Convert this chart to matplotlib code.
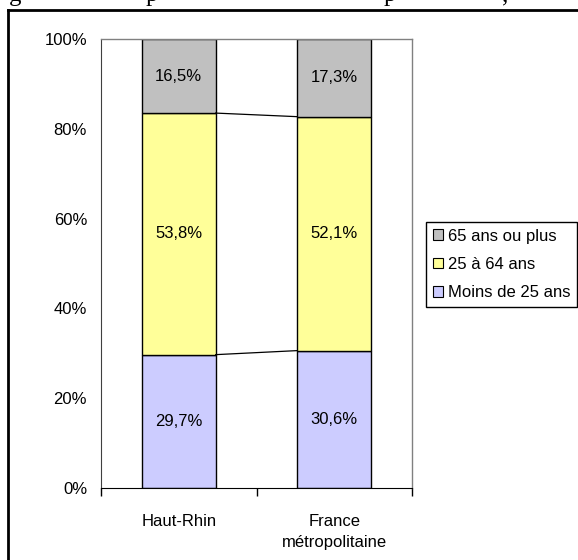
import matplotlib
matplotlib.use('Agg')
import matplotlib.pyplot as plt
from matplotlib.patches import Patch
from matplotlib.lines import Line2D
from matplotlib.ticker import FixedLocator, PercentFormatter

plt.rcParams['font.family'] = ['Liberation Sans', 'DejaVu Sans']

# donnees (en %)
zones = ['Haut-Rhin', 'France\nmétropolitaine']
moins_25 = [29.7, 30.6]
de_25_64 = [53.8, 52.1]
plus_65 = [16.5, 17.3]
series = ['Moins de 25 ans', '25 à 64 ans', '65 ans ou plus']
couleurs = ['#CCCCFF', '#FFFF99', '#C0C0C0']

fig = plt.figure(figsize=(5.78, 5.6), dpi=100)
ax = fig.add_axes([101 / 578, 1 - 488 / 560, 311 / 578, 449 / 560])

largeur = 0.475
x = list(range(len(zones)))
bas = [0.0] * len(zones)
hauts = []
for vals, nom, c in zip([moins_25, de_25_64, plus_65], series, couleurs):
    ax.bar(x, vals, largeur, bottom=bas, color=c, edgecolor='black', linewidth=1, label=nom)
    for xi, v, b in zip(x, vals, bas):
        ax.text(xi, b + v / 2, f'{v:.1f}%'.replace('.', ','), ha='center', va='center', fontsize=12)
    bas = [b + v for b, v in zip(bas, vals)]
    hauts.append(list(bas))

# lignes de liaison entre les barres
for h in hauts[:-1]:
    ax.plot([x[0] + largeur / 2, x[1] - largeur / 2], h, color='black', linewidth=0.9)

ax.set_xlim(-0.5, 1.5)
ax.set_ylim(0, 100)
ax.yaxis.set_major_locator(FixedLocator([0, 20, 40, 60, 80, 100]))
ax.yaxis.set_major_formatter(PercentFormatter(decimals=0))
ax.tick_params(axis='y', length=0, pad=10, labelsize=12)

ax.set_xticks([-0.5, 0.5, 1.5])
ax.set_xticklabels([])
ax.set_xticks(x, minor=True)
ax.set_xticklabels(zones, minor=True, linespacing=1.5)
ax.tick_params(axis='x', which='major', length=6, width=1, direction='out')
ax.tick_params(axis='x', which='minor', length=0, pad=19, labelsize=12)

for s in ['top', 'right']:
    ax.spines[s].set_color('#808080')
    ax.spines[s].set_linewidth(1)
ax.spines['left'].set_color('#404040')
ax.spines['bottom'].set_color('black')

handles = [Patch(facecolor=c, edgecolor='black', linewidth=0.8, label=n)
           for c, n in zip(couleurs[::-1], series[::-1])]
leg = fig.legend(handles=handles, loc='upper left', bbox_to_anchor=(426 / 578, 1 - 222 / 560),
                 bbox_transform=fig.transFigure, borderaxespad=0, fontsize=12,
                 fancybox=False, edgecolor='black', framealpha=1,
                 handlelength=0.6, handleheight=0.6, handletextpad=0.3,
                 labelspacing=0.8, borderpad=0.4)
leg.get_frame().set_linewidth(1)

# cadre du graphique
fig.add_artist(Line2D([8 / 578, 1], [1 - 10 / 560, 1 - 10 / 560], color='black', linewidth=2,
                      transform=fig.transFigure))
fig.add_artist(Line2D([8 / 578, 8 / 578], [1 - 10 / 560, 0], color='black', linewidth=2,
                      transform=fig.transFigure))

# titre coupe en haut de l'image
for xc, ch in [(15, 'g'), (152, 'p'), (390, 'p'), (505, ',')]:
    fig.text(xc / 578, 1 - 1 / 560, ch, ha='center', va='baseline', fontsize=18,
             family='Liberation Serif')

fig.savefig('out.png', dpi=100)
